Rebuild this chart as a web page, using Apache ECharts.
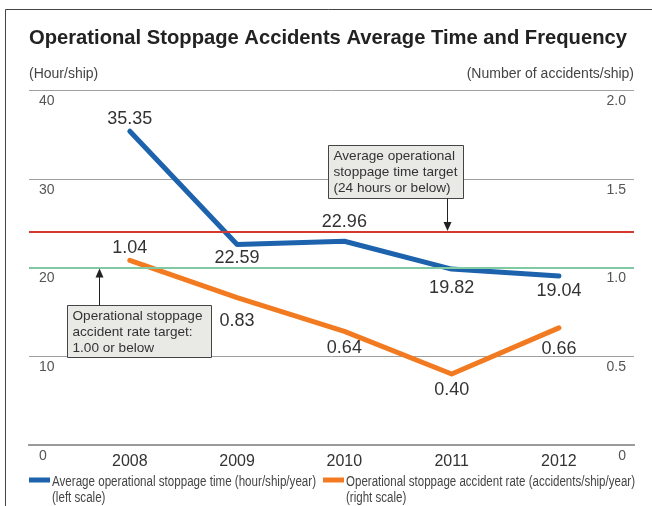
<!DOCTYPE html>
<html>
<head>
<meta charset="utf-8">
<script src="https://cdn.jsdelivr.net/npm/echarts@6/dist/echarts.min.js"></script>
<style>
  html, body { margin: 0; padding: 0; background: #fff; }
  #chart { width: 652px; height: 506px; }
</style>
</head>
<body>
<div id="chart"></div>
<script>
// data
var years = [2008, 2009, 2010, 2011, 2012];
var stopTime = [35.35, 22.59, 22.96, 19.82, 19.04];      // hour/ship/year, left scale
var accidentRate = [1.04, 0.83, 0.64, 0.40, 0.66];       // accidents/ship/year, right scale
var timeTarget = 24;
var rateTarget = 1.0;
var leftTicks = [0, 10, 20, 30, 40];
var rightTicks = [0, 0.5, 1.0, 1.5, 2.0];

var timeName = "Average operational stoppage time (hour/ship/year)";
var rateName = "Operational stoppage accident rate (accidents/ship/year)";

// where each value label sits (side, gap to the line)
var timeLabelSide = ["top", "bottom", "top", "bottom", "bottom"];
var timeLabelGap = [2, 4, 9, 9, 5];
var rateLabelSide = ["top", "bottom", "bottom", "bottom", "bottom"];
var rateLabelGap = [2, 13, 7, 6, 11];

var font = "'Liberation Sans', Arial, sans-serif";
var blue = "#1c62ad";
var orange = "#f27b21";

function points(vals, sides, gaps, digits) {
  return vals.map(function (v, i) {
    return {
      value: [years[i], v],
      label: {
        position: sides[i],
        distance: gaps[i],
        formatter: function () { return v.toFixed(digits); }
      }
    };
  });
}

var chart = echarts.init(document.getElementById("chart"));

chart.setOption({
  animation: false,
  textStyle: { fontFamily: font },
  title: {
    text: "Operational Stoppage Accidents Average Time and Frequency",
    left: 24,
    top: 23,
    textStyle: { fontSize: 20.2, fontWeight: "bold", color: "#222", fontFamily: font }
  },
  grid: { left: 29, right: 18, top: 90, bottom: 61, containLabel: false },
  xAxis: [
    {
      type: "value",
      min: 2007.06,
      max: 2012.7,
      axisLine: { show: true, lineStyle: { color: "#9a9a9a", width: 2 } },
      axisTick: { show: false },
      splitLine: { show: false },
      axisLabel: {
        customValues: years,
        formatter: function (v) { return String(v); },
        fontSize: 16,
        color: "#333",
        margin: 9
      }
    },
    {
      type: "value",
      position: "top",
      min: 2007.06,
      max: 2012.7,
      axisLine: { show: true, lineStyle: { color: "#9a9a9a", width: 2 } },
      axisTick: { show: false },
      axisLabel: { show: false },
      splitLine: { show: false }
    }
  ],
  yAxis: [
    {
      type: "value",
      min: leftTicks[0],
      max: leftTicks[leftTicks.length - 1],
      interval: 10,
      name: "(Hour/ship)",
      nameLocation: "end",
      nameGap: 9,
      nameTextStyle: { align: "left", fontSize: 14, color: "#444" },
      axisLine: { show: false },
      axisTick: { show: false },
      splitLine: { show: true, lineStyle: { color: "#a0a0a0", width: 1 } },
      axisLabel: {
        inside: true,
        margin: 10,
        verticalAlign: "top",
        padding: [4, 0, 0, 0],
        fontSize: 14,
        color: "#555"
      }
    },
    {
      type: "value",
      min: rightTicks[0],
      max: rightTicks[rightTicks.length - 1],
      interval: 0.5,
      position: "right",
      name: "(Number of accidents/ship)",
      nameLocation: "end",
      nameGap: 9,
      nameTextStyle: { align: "right", fontSize: 14, color: "#444" },
      axisLine: { show: false },
      axisTick: { show: false },
      splitLine: { show: false },
      axisLabel: {
        inside: true,
        margin: 8,
        verticalAlign: "top",
        padding: [4, 0, 0, 0],
        fontSize: 14,
        color: "#555",
        formatter: function (v) { return v === 0 ? "0" : v.toFixed(1); }
      }
    }
  ],
  series: [
    {
      name: timeName,
      type: "line",
      yAxisIndex: 0,
      symbol: "circle",
      symbolSize: 2,
      showSymbol: true,
      color: blue,
      lineStyle: { width: 5, color: blue, cap: "round", join: "round" },
      label: { show: true, fontSize: 18, color: "#333", fontFamily: font },
      data: points(stopTime, timeLabelSide, timeLabelGap, 2),
      z: 3,
      markLine: {
        silent: true,
        symbol: "none",
        label: { show: false },
        lineStyle: { type: "solid", color: "#d63a2f", width: 2 },
        data: [{ yAxis: timeTarget }]
      }
    },
    {
      name: rateName,
      type: "line",
      yAxisIndex: 1,
      symbol: "circle",
      symbolSize: 2,
      showSymbol: true,
      color: orange,
      lineStyle: { width: 5, color: orange, cap: "round", join: "round" },
      label: { show: true, fontSize: 18, color: "#333", fontFamily: font },
      data: points(accidentRate, rateLabelSide, rateLabelGap, 2),
      z: 3,
      markLine: {
        silent: true,
        symbol: "none",
        label: { show: false },
        lineStyle: { type: "solid", color: "#7fc9a3", width: 2 },
        data: [{ yAxis: rateTarget }]
      }
    }
  ]
});

// annotation boxes, arrows pinned to the target lines
var redY = chart.convertToPixel({ yAxisIndex: 0 }, timeTarget);
var greenY = chart.convertToPixel({ yAxisIndex: 1 }, rateTarget);

function noteBox(x, y, w, h, text) {
  return [
    { type: "rect", shape: { x: x, y: y, width: w, height: h },
      style: { fill: "#e9eae6", stroke: "#444", lineWidth: 1 }, z: 10 },
    { type: "text", x: x + 5, y: y + 3,
      style: { text: text, font: "13.6px " + font, fill: "#333", lineHeight: 16 }, z: 11 }
  ];
}
function arrow(x, y1, y2) {
  var dir = y2 > y1 ? 1 : -1;
  return [
    { type: "line", shape: { x1: x, y1: y1, x2: x, y2: y2 - dir * 8 },
      style: { stroke: "#222", lineWidth: 1 }, z: 10 },
    { type: "polygon", shape: { points: [[x - 4, y2 - dir * 9], [x + 4, y2 - dir * 9], [x, y2]] },
      style: { fill: "#222" }, z: 10 }
  ];
}

// legend drawn by hand: the original uses a condensed face, so the text is squeezed to its width
var measureCtx = document.createElement("canvas").getContext("2d");
var legendFont = "14px " + font;
function legendItem(x, y, color, name, note, width) {
  measureCtx.font = legendFont;
  var sx = width / measureCtx.measureText(name).width;
  return [
    { type: "rect", shape: { x: x, y: y - 2.5, width: 21, height: 5 }, style: { fill: color }, z: 10 },
    { type: "text", x: x + 23, y: y - 6, scaleX: sx,
      style: { text: name + "\n" + note, font: legendFont, fill: "#444", lineHeight: 16 }, z: 10 }
  ];
}

var g = [];
g.push({ type: "polyline", shape: { points: [[5.5, 506], [5.5, 9.5], [652, 9.5]] },
  style: { stroke: "#444", lineWidth: 1, fill: null }, z: 10 });
g = g.concat(noteBox(328.5, 145.5, 135, 53,
  "Average operational\nstoppage time target\n(24 hours or below)"));
g = g.concat(arrow(447.5, 198.5, redY - 1));
g = g.concat(noteBox(67.5, 305.5, 144, 52,
  "Operational stoppage\naccident rate target:\n1.00 or below"));
g = g.concat(arrow(99.5, 305.5, greenY + 1));
g = g.concat(legendItem(29, 480, blue, timeName, "(left scale)", 264));
g = g.concat(legendItem(323, 480, orange, rateName, "(right scale)", 289));

chart.setOption({ graphic: g });
</script>
</body>
</html>
